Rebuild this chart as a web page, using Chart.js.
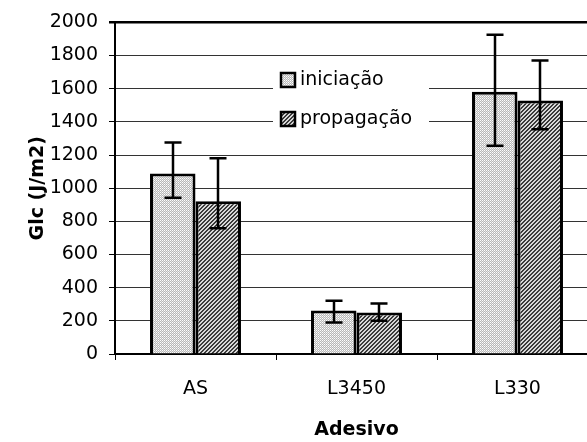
<!DOCTYPE html>
<html>
<head>
<meta charset="utf-8">
<script src="https://cdn.jsdelivr.net/npm/chart.js@4.4.1/dist/chart.umd.min.js"></script>
<style>
  html, body { margin: 0; padding: 0; background: #fff; overflow: hidden; }
  canvas { display: block; }
</style>
</head>
<body>
<canvas id="glcChart" width="600" height="442"></canvas>
<script>
// ======== Data =========
const categories = ['AS', 'L3450', 'L330'];
const seriesNames = ['iniciação', 'propagação'];
const iniciacao = [1088, 263, 1581];
const propagacao = [922, 250, 1529];
// error bars (low / high)
const iniciacaoLow = [942, 190, 1256];
const iniciacaoHigh = [1275, 321, 1926];
const propagacaoLow = [759, 200, 1355];
const propagacaoHigh = [1181, 305, 1770];
const yTicks = [0, 200, 400, 600, 800, 1000, 1200, 1400, 1600, 1800, 2000];

const FONT = '"DejaVu Sans", "Liberation Sans", Arial, sans-serif';

// ======== Fill patterns =========
function makePattern(size, pick) {
    const c = document.createElement('canvas');
    c.width = size; c.height = size;
    const g = c.getContext('2d');
    for (let y = 0; y < size; y++) {
        for (let x = 0; x < size; x++) {
            g.fillStyle = pick(x, y);
            g.fillRect(x, y, 1, 1);
        }
    }
    return g.createPattern(c, 'repeat');
}
const dotPattern = makePattern(2, (x, y) => {
    if (x === 0 && y === 0) return '#ffffff';
    if (x === 1 && y === 1) return '#e4e4e4';
    return '#b8b8b8';
});
const hatchPattern = makePattern(4, (x, y) => ((x + y) % 4 < 2 ? '#3a3a3a' : '#d8d8d8'));

// ======== Error bars =========
const errorBars = {
    id: 'errorBars',
    afterDatasetsDraw(chart) {
        const ctx = chart.ctx;
        const yScale = chart.scales.y;
        const lows = [iniciacaoLow, propagacaoLow];
        const highs = [iniciacaoHigh, propagacaoHigh];
        ctx.save();
        ctx.strokeStyle = '#000';
        ctx.lineWidth = 2.5;
        chart.data.datasets.forEach((ds, i) => {
            const meta = chart.getDatasetMeta(i);
            meta.data.forEach((bar, j) => {
                const x = Math.round(bar.x);
                const yLo = yScale.getPixelForValue(lows[i][j]);
                const yHi = yScale.getPixelForValue(highs[i][j]);
                const half = 8.5;
                ctx.beginPath();
                ctx.moveTo(x, yLo); ctx.lineTo(x, yHi);
                ctx.moveTo(x - half, yLo); ctx.lineTo(x + half, yLo);
                ctx.moveTo(x - half, yHi); ctx.lineTo(x + half, yHi);
                ctx.stroke();
            });
        });
        ctx.restore();
    }
};

// ======== Legend inside the plot =========
const innerLegend = {
    id: 'innerLegend',
    afterDatasetsDraw(chart) {
        const ctx = chart.ctx;
        ctx.save();
        ctx.fillStyle = '#fff';
        ctx.fillRect(273, 57, 156, 94);
        chart.data.datasets.forEach((ds, i) => {
            const top = 73 + i * 39;
            ctx.fillStyle = ds.backgroundColor;
            ctx.fillRect(281, top, 14, 14);
            ctx.strokeStyle = '#000';
            ctx.lineWidth = 2.5;
            ctx.strokeRect(281, top, 14, 14);
            ctx.fillStyle = '#000';
            ctx.font = '19px ' + FONT;
            ctx.textBaseline = 'middle';
            ctx.textAlign = 'left';
            ctx.fillText(ds.label, 300, top + 7);
        });
        ctx.restore();
    }
};

const ctx = document.getElementById('glcChart').getContext('2d');
new Chart(ctx, {
    type: 'bar',
    data: {
        labels: categories,
        datasets: [{
            label: seriesNames[0],
            data: iniciacao,
            backgroundColor: dotPattern,
            borderColor: '#000',
            borderWidth: 3
        }, {
            label: seriesNames[1],
            data: propagacao,
            backgroundColor: hatchPattern,
            borderColor: '#000',
            borderWidth: 3
        }]
    },
    options: {
        responsive: false,
        animation: false,
        events: [],
        categoryPercentage: 0.565,
        barPercentage: 1,
        layout: { padding: { left: 22, top: 20, right: 2, bottom: 0 } },
        plugins: {
            legend: { display: false },
            tooltip: { enabled: false }
        },
        scales: {
            x: {
                grid: { drawOnChartArea: false, offset: true, tickLength: 6, color: '#000', lineWidth: 1 },
                border: { color: '#000', width: 2 },
                ticks: { color: '#000', font: { family: FONT, size: 19 }, padding: 18 },
                title: {
                    display: true, text: 'Adesivo', color: '#000',
                    font: { family: FONT, size: 19, weight: 'bold', lineHeight: 1.2 },
                    padding: { top: 0, bottom: 1 }
                },
                afterFit: s => { s.height = 88; }
            },
            y: {
                min: 0,
                max: 2000,
                afterBuildTicks: s => { s.ticks = yTicks.map(v => ({ value: v })); },
                grid: {
                    color: c => (c.tick && c.tick.value === 2000 ? '#000' : '#333'),
                    lineWidth: c => (c.tick && c.tick.value === 2000 ? 2.5 : 1),
                    tickColor: '#000',
                    tickLength: 6
                },
                border: { color: '#000', width: 2 },
                ticks: {
                    color: '#000',
                    font: { family: FONT, size: 19 },
                    padding: 11,
                    callback: v => String(v)
                },
                title: {
                    display: true, text: 'Glc (J/m2)', color: '#000',
                    font: { family: FONT, size: 19, weight: 'bold', lineHeight: 1.2 },
                    padding: { top: 5, bottom: 0 }
                },
                afterFit: s => { s.width = 93; }
            }
        }
    },
    plugins: [errorBars, innerLegend]
});
</script>
</body>
</html>
